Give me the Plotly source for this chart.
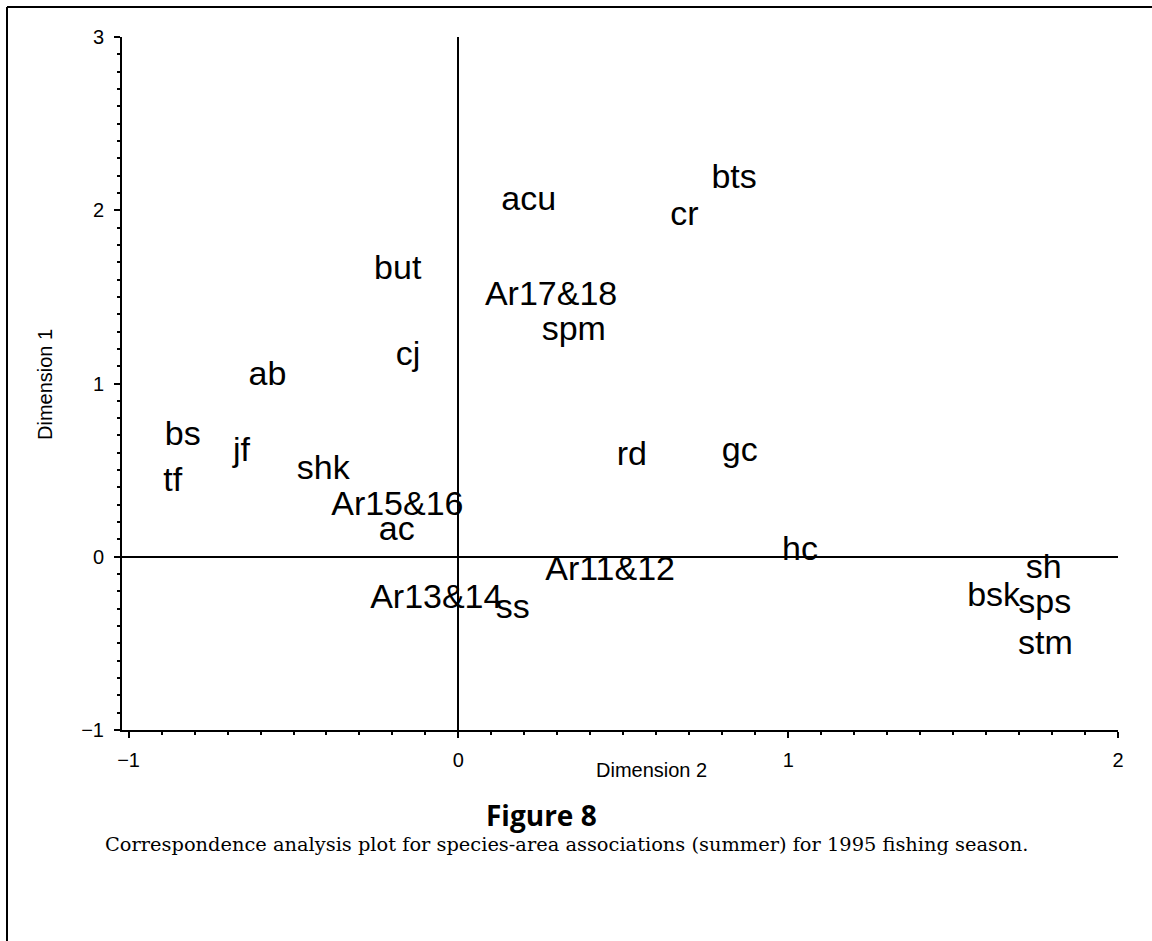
import plotly.graph_objects as go

# Correspondence analysis coordinates (label centres)
labels = ["bts", "acu", "cr", "but", "Ar17&18", "spm", "cj", "ab", "bs", "jf",
          "tf", "shk", "rd", "gc", "Ar15&16", "ac", "hc", "Ar11&12", "sh",
          "Ar13&14", "ss", "bsk", "sps", "stm"]
dim2 = [0.836, 0.213, 0.685, -0.184, 0.281, 0.350, -0.153, -0.579, -0.836, -0.658,
        -0.866, -0.410, 0.526, 0.853, -0.185, -0.187, 1.036, 0.460, 1.775,
        -0.067, 0.165, 1.623, 1.778, 1.780]
dim1 = [2.18, 2.05, 1.965, 1.65, 1.50, 1.30, 1.155, 1.04, 0.695, 0.60,
        0.427, 0.50, 0.58, 0.60, 0.288, 0.147, 0.032, -0.084, -0.075,
        -0.248, -0.305, -0.236, -0.277, -0.513]

x_ticks = [-1, 0, 1, 2]
y_ticks = [-1, 0, 1, 2, 3]

SANS = "Liberation Sans, Arial, Helvetica, sans-serif"

fig = go.Figure()
fig.add_trace(go.Scatter(
    x=dim2, y=dim1, text=labels, mode="text",
    textposition="middle center",
    textfont=dict(family=SANS, size=34, color="black"),
    hoverinfo="text", showlegend=False,
))

axis_common = dict(
    showgrid=False, showline=True, linecolor="black", linewidth=2,
    ticks="outside", tickcolor="black", tickwidth=2, ticklen=6,
    zeroline=True, zerolinecolor="black", zerolinewidth=2,
    tickfont=dict(family=SANS, size=20, color="black"),
    minor=dict(ticks="outside", ticklen=3, tickwidth=2, tickcolor="black", dtick=0.1, showgrid=False),
)

fig.update_xaxes(range=[-1.02, 2.0], tickvals=x_ticks, ticklabelstandoff=5, **axis_common)
fig.update_yaxes(range=[-1.0, 3.0], tickvals=y_ticks, ticklabelstandoff=6, **axis_common)

W, H = 1152, 941
L, R, T, B = 122, 34, 37, 211
pw, ph = W - L - R, H - T - B

def px_x(px):
    return (px - L) / pw

def px_y(py):
    return (H - B - py) / ph

fig.update_layout(
    width=W, height=H,
    margin=dict(l=L, r=R, t=T, b=B),
    paper_bgcolor="white", plot_bgcolor="white",
    annotations=[
        dict(text="Dimension 2", x=px_x(651), y=px_y(770), xref="paper", yref="paper",
             showarrow=False, xanchor="center", yanchor="middle",
             font=dict(family=SANS, size=20, color="black")),
        dict(text="Dimension 1", x=px_x(45), y=px_y(385), xref="paper", yref="paper",
             showarrow=False, xanchor="center", yanchor="middle", textangle=-90,
             font=dict(family=SANS, size=20, color="black")),
        dict(text="<b>Figure 8</b>", x=px_x(541), y=px_y(815), xref="paper", yref="paper",
             showarrow=False, xanchor="center", yanchor="middle",
             font=dict(family="Open Sans, sans-serif", size=28, color="black")),
        dict(text="Correspondence analysis plot for species-area associations (summer) for 1995 fishing season.",
             x=px_x(566), y=px_y(844), xref="paper", yref="paper",
             showarrow=False, xanchor="center", yanchor="middle",
             font=dict(family="DejaVu Serif, serif", size=19.4, color="black")),
    ],
    shapes=[
        dict(type="line", xref="paper", yref="paper",
             x0=px_x(7), y0=px_y(7), x1=px_x(1152), y1=px_y(7),
             line=dict(color="black", width=2)),
        dict(type="line", xref="paper", yref="paper",
             x0=px_x(7), y0=px_y(7), x1=px_x(7), y1=px_y(941),
             line=dict(color="black", width=2)),
    ],
)

fig.write_html("out.html")
